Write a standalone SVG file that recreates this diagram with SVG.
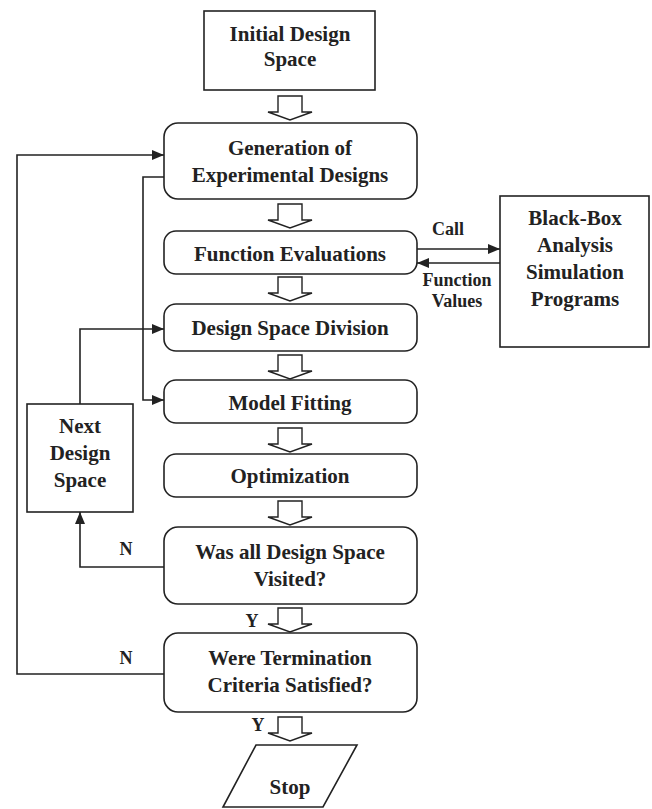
<svg xmlns="http://www.w3.org/2000/svg" width="652" height="809" viewBox="0 0 652 809">
  <style>
    .box { fill: #fff; stroke: #222; stroke-width: 1.6; }
    .ln { fill: none; stroke: #222; stroke-width: 1.6; }
    .hollow { fill: #fff; stroke: #222; stroke-width: 1.4; stroke-linejoin: miter; }
    text { font-family: "Liberation Serif", "Times New Roman", serif; font-weight: bold; fill: #222; }
    .t { font-size: 21px; text-anchor: middle; }
    .s { font-size: 18px; text-anchor: middle; }
  </style>
  <defs>
    <marker id="ah" viewBox="0 0 12 10" refX="12" refY="5" markerWidth="12" markerHeight="10" markerUnits="userSpaceOnUse" orient="auto">
      <path d="M0,0 L12,5 L0,10 Z" fill="#222"/>
    </marker>
    <!-- hollow block arrow, drawn with its top at y=0 -->
    <path id="blk" class="hollow" d="M-12,0 H12 V16 H22 L0,24 L-22,16 H-12 Z"/>
  </defs>

  <!-- connectors -->
  <g id="connectors">
    <!-- termination loop back to generation -->
    <polyline class="ln" points="164,674 17,674 17,155 164,155" marker-end="url(#ah)"/>
    <!-- generation feeds model fitting -->
    <polyline class="ln" points="164,177 143,177 143,400 164,400" marker-end="url(#ah)"/>
    <!-- next design space to division -->
    <polyline class="ln" points="80,404 80,329 164,329" marker-end="url(#ah)"/>
    <!-- not all visited -->
    <polyline class="ln" points="164,567 80,567 80,512" marker-end="url(#ah)"/>
    <!-- call / function values -->
    <line class="ln" x1="417" y1="249" x2="500" y2="249" marker-end="url(#ah)"/>
    <line class="ln" x1="500" y1="263" x2="417" y2="263" marker-end="url(#ah)"/>

    <!-- block arrows between steps -->
    <use href="#blk" x="290" y="96"/>
    <use href="#blk" x="290" y="204"/>
    <use href="#blk" x="290" y="277"/>
    <use href="#blk" x="290" y="355"/>
    <use href="#blk" x="290" y="428"/>
    <use href="#blk" x="290" y="501"/>
    <use href="#blk" x="290" y="608"/>
    <use href="#blk" x="290" y="717"/>

    <text class="s" x="448" y="235">Call</text>
    <text class="s" x="457" y="286">Function</text>
    <text class="s" x="457" y="307">Values</text>
    <text class="s" x="126" y="555">N</text>
    <text class="s" x="126" y="664">N</text>
    <text class="s" x="252" y="627">Y</text>
    <text class="s" x="258" y="731">Y</text>
  </g>

  <g id="initial">
    <rect class="box" x="204" y="11" width="171" height="79"/>
    <text class="t" x="290" y="41">Initial Design</text>
    <text class="t" x="290" y="66">Space</text>
  </g>

  <g id="generation">
    <rect class="box" x="164" y="123" width="253" height="76" rx="14"/>
    <text class="t" x="290" y="155">Generation of</text>
    <text class="t" x="290" y="182">Experimental Designs</text>
  </g>

  <g id="evaluations">
    <rect class="box" x="164" y="231" width="253" height="43" rx="12"/>
    <text class="t" x="290" y="261">Function Evaluations</text>
  </g>

  <g id="blackbox">
    <rect class="box" x="500" y="196" width="149" height="151"/>
    <text class="t" x="575" y="225">Black-Box</text>
    <text class="t" x="575" y="252">Analysis</text>
    <text class="t" x="575" y="279">Simulation</text>
    <text class="t" x="575" y="306">Programs</text>
  </g>

  <g id="division">
    <rect class="box" x="164" y="304" width="253" height="47" rx="12"/>
    <text class="t" x="290" y="335">Design Space Division</text>
  </g>

  <g id="fitting">
    <rect class="box" x="164" y="380" width="253" height="43" rx="12"/>
    <text class="t" x="290" y="410">Model Fitting</text>
  </g>

  <g id="optimization">
    <rect class="box" x="164" y="454" width="253" height="43" rx="12"/>
    <text class="t" x="290" y="483">Optimization</text>
  </g>

  <g id="next-space">
    <rect class="box" x="27" y="404" width="106" height="108"/>
    <text class="t" x="80" y="433">Next</text>
    <text class="t" x="80" y="460">Design</text>
    <text class="t" x="80" y="487">Space</text>
  </g>

  <g id="visited">
    <rect class="box" x="164" y="527" width="253" height="77" rx="14"/>
    <text class="t" x="290" y="559">Was all Design Space</text>
    <text class="t" x="290" y="586">Visited?</text>
  </g>

  <g id="termination">
    <rect class="box" x="164" y="633" width="253" height="79" rx="14"/>
    <text class="t" x="290" y="665">Were Termination</text>
    <text class="t" x="290" y="692">Criteria Satisfied?</text>
  </g>

  <g id="stop">
    <polygon class="box" points="256,745 357,745 323,807 223,807"/>
    <text class="t" x="290" y="794">Stop</text>
  </g>
</svg>
